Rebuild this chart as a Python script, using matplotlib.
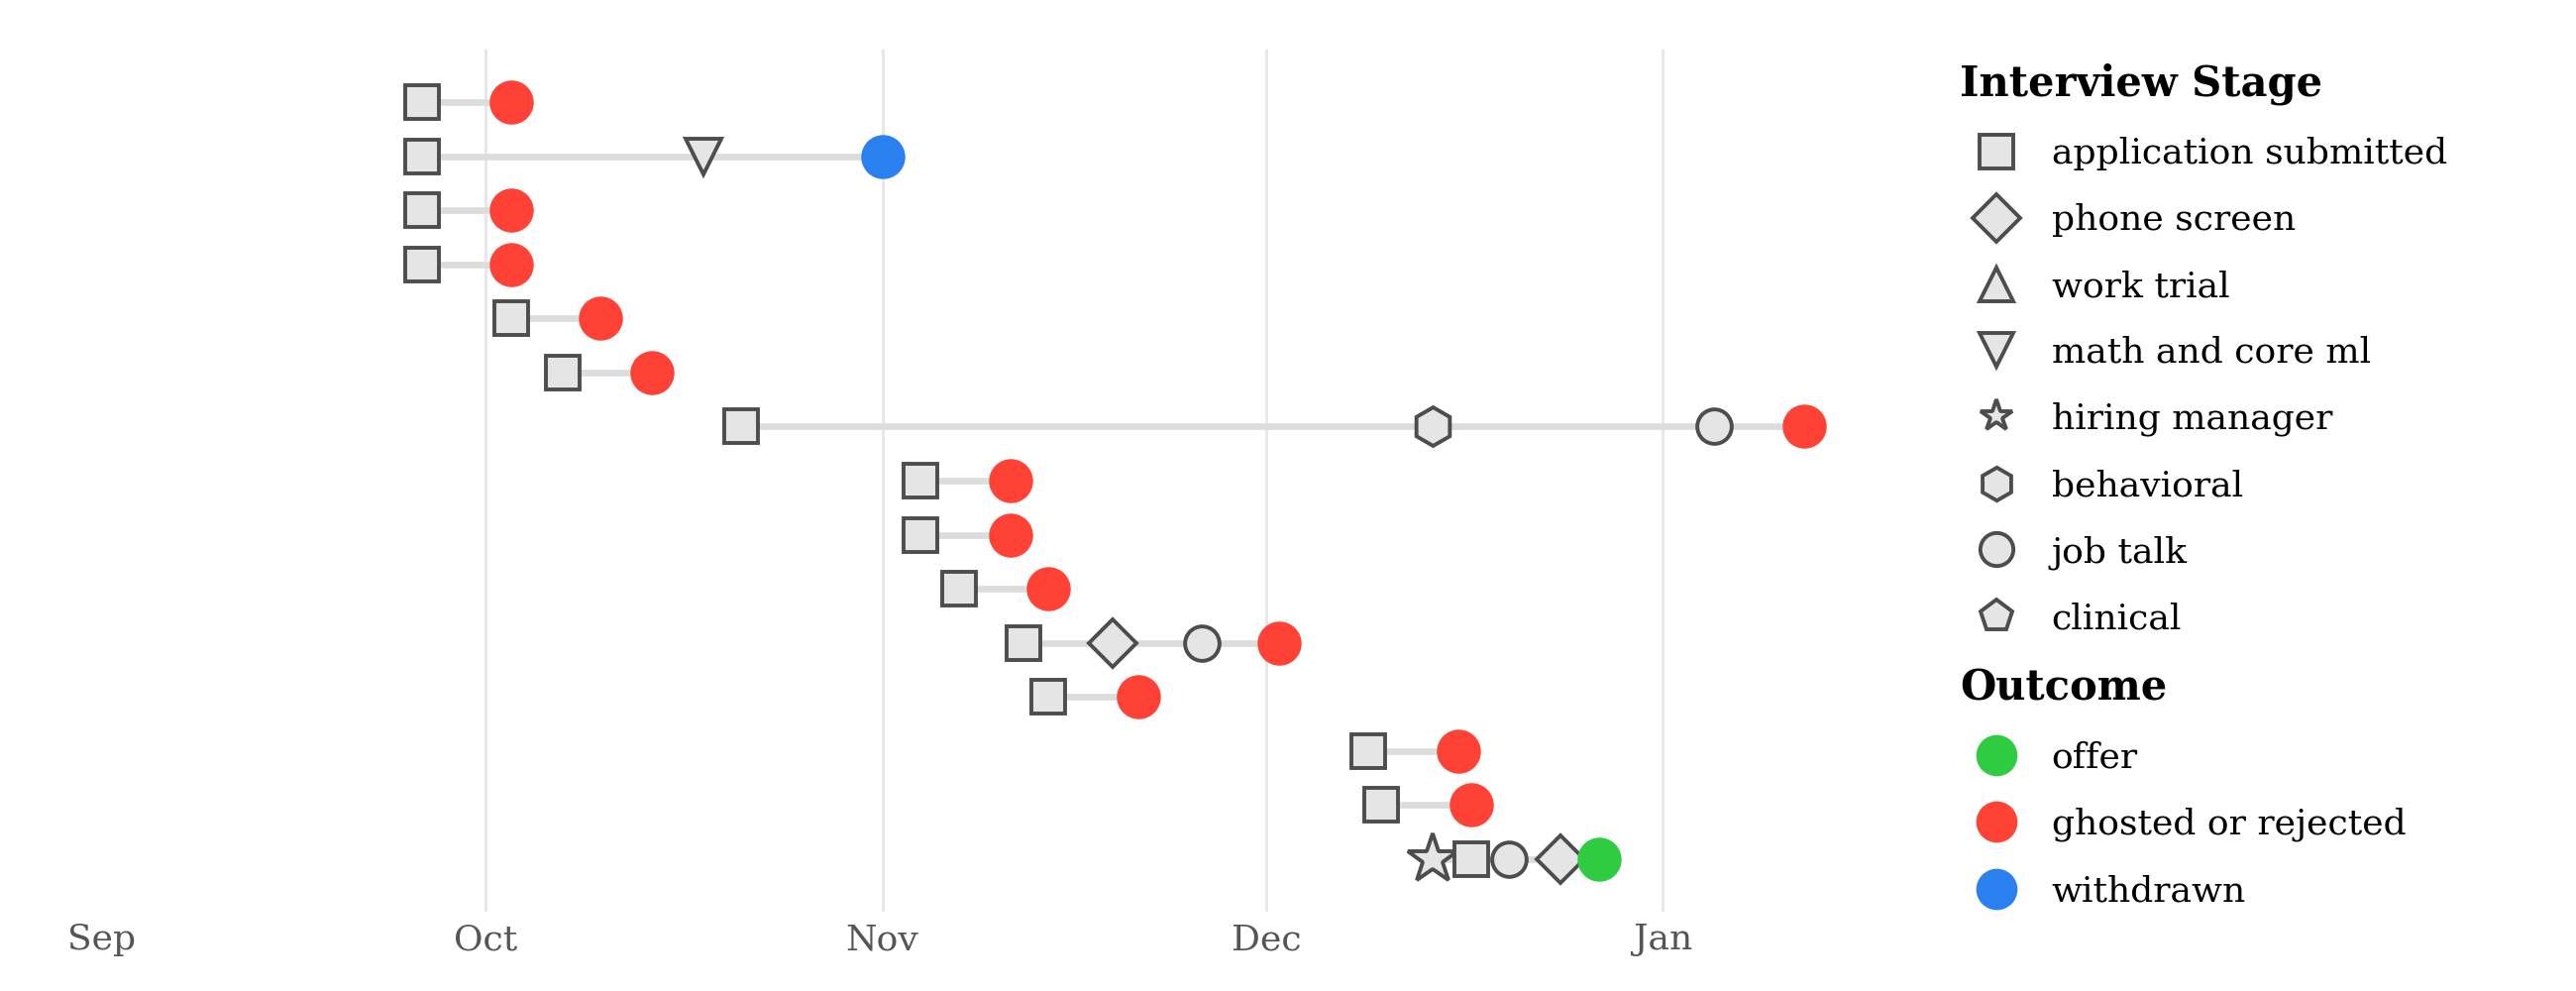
import matplotlib.pyplot as plt
import matplotlib.dates as mdates
from matplotlib.lines import Line2D
import pandas as pd

plt.rcParams['font.family'] = ['DejaVu Serif']

# one row per application, top to bottom
stage_dates = [
    ['2023-09-26'],
    ['2023-09-26', '2023-10-18'],
    ['2023-09-26'],
    ['2023-09-26'],
    ['2023-10-03'],
    ['2023-10-07'],
    ['2023-10-21', '2023-12-14', '2024-01-05'],
    ['2023-11-04'],
    ['2023-11-04'],
    ['2023-11-07'],
    ['2023-11-12', '2023-11-19', '2023-11-26'],
    ['2023-11-14'],
    ['2023-12-09'],
    ['2023-12-10'],
    ['2023-12-14', '2023-12-17', '2023-12-20', '2023-12-24'],
]
stage_types = [
    ['application submitted'],
    ['application submitted', 'math and core ml'],
    ['application submitted'],
    ['application submitted'],
    ['application submitted'],
    ['application submitted'],
    ['application submitted', 'behavioral', 'job talk'],
    ['application submitted'],
    ['application submitted'],
    ['application submitted'],
    ['application submitted', 'phone screen', 'job talk'],
    ['application submitted'],
    ['application submitted'],
    ['application submitted'],
    ['hiring manager', 'application submitted', 'job talk', 'phone screen'],
]
outcome_dates = ['2023-10-03', '2023-11-01', '2023-10-03', '2023-10-03', '2023-10-10',
                 '2023-10-14', '2024-01-12', '2023-11-11', '2023-11-11', '2023-11-14',
                 '2023-12-02', '2023-11-21', '2023-12-16', '2023-12-17', '2023-12-27']
outcomes = ['ghosted or rejected', 'withdrawn', 'ghosted or rejected', 'ghosted or rejected',
            'ghosted or rejected', 'ghosted or rejected', 'ghosted or rejected',
            'ghosted or rejected', 'ghosted or rejected', 'ghosted or rejected',
            'ghosted or rejected', 'ghosted or rejected', 'ghosted or rejected',
            'ghosted or rejected', 'offer']

stage_names = ['application submitted', 'phone screen', 'work trial', 'math and core ml',
               'hiring manager', 'behavioral', 'job talk', 'clinical']
stage_markers = {'application submitted': 's', 'phone screen': 'D', 'work trial': '^',
                 'math and core ml': 'v', 'hiring manager': '*', 'behavioral': 'h',
                 'job talk': 'o', 'clinical': 'p'}
stage_sizes = {'application submitted': 12, 'phone screen': 12, 'work trial': 13,
               'math and core ml': 13, 'hiring manager': 19, 'behavioral': 14,
               'job talk': 12.5, 'clinical': 13}
outcome_names = ['offer', 'ghosted or rejected', 'withdrawn']
outcome_colors = {'offer': '#2ecc40', 'ghosted or rejected': '#ff4136', 'withdrawn': '#2b80ef'}

fill = '#e5e5e5'
edge = '#4d4d4d'

fig = plt.figure(figsize=(13, 5), dpi=200)
ax = fig.add_axes([0.0395, 0.08, 0.6756, 0.87])

for i in range(len(outcomes)):
    d = pd.to_datetime(stage_dates[i])
    od = pd.to_datetime(outcome_dates[i])
    ax.plot([d.min(), od], [i, i], color='#dcdcdc', lw=2.4, zorder=1, solid_capstyle='butt')
    for dt, st in zip(d, stage_types[i]):
        ax.plot(dt, i, marker=stage_markers[st], ms=stage_sizes[st], mfc=fill, mec=edge,
                mew=1.4, ls='none', zorder=3)
    ax.plot(od, i, marker='o', ms=16, mfc=outcome_colors[outcomes[i]], mec='none',
            ls='none', zorder=4)

months = pd.to_datetime(['2023-09-01', '2023-10-01', '2023-11-01', '2023-12-01', '2024-01-01'])
for m in months[1:]:
    ax.axvline(m, color='#e6e6e6', lw=1.0, zorder=0)

ax.set_xlim(pd.Timestamp('2023-09-01'), pd.Timestamp('2024-01-15'))
ax.set_ylim(len(outcomes) - 0.03, -0.97)
ax.set_xticks(months)
ax.xaxis.set_major_formatter(mdates.DateFormatter('%b'))
ax.set_yticks([])
ax.tick_params(axis='x', length=0, labelsize=13, labelcolor='#555555', pad=4)
for s in ax.spines.values():
    s.set_visible(False)

stage_handles = [Line2D([], [], marker=stage_markers[s], ms=12, mfc=fill, mec=edge, mew=1.4,
                        ls='none') for s in stage_names]
leg1 = fig.legend(stage_handles, stage_names, title='Interview Stage', loc='upper left',
                  bbox_to_anchor=(0.754, 0.955), frameon=False, fontsize=13,
                  title_fontproperties={'weight': 'bold', 'size': 15}, alignment='left',
                  borderpad=0, labelspacing=0.91, handlelength=2.0, handletextpad=0.55)

outcome_handles = [Line2D([], [], marker='o', ms=15, mfc=outcome_colors[o], mec='none', ls='none')
                   for o in outcome_names]
leg2 = fig.legend(outcome_handles, outcome_names, title='Outcome', loc='upper left',
                  bbox_to_anchor=(0.754, 0.345), frameon=False, fontsize=13,
                  title_fontproperties={'weight': 'bold', 'size': 15}, alignment='left',
                  borderpad=0, labelspacing=0.91, handlelength=2.0, handletextpad=0.55)

fig.savefig('out.png', dpi=200)
